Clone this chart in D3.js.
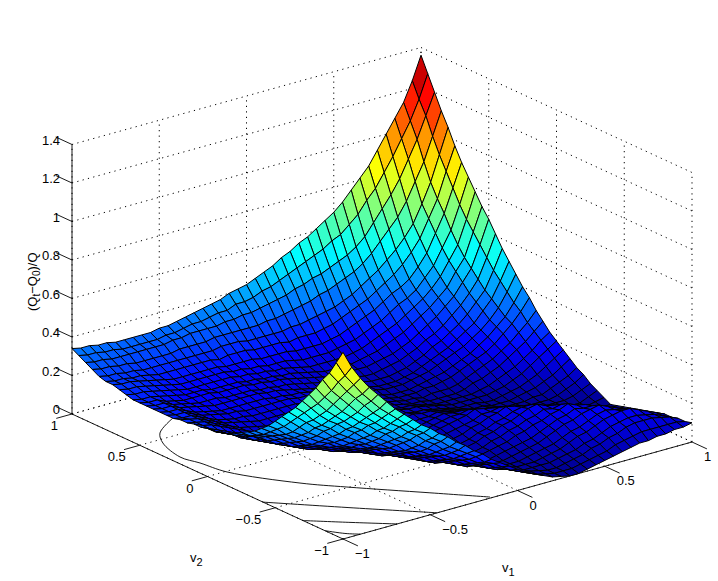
<!DOCTYPE html>
<html>
<head>
<meta charset="utf-8">
<script src="https://cdn.jsdelivr.net/npm/d3@7"></script>
<style>
body { margin: 0; background: #fff; }
text { font-family: "Liberation Sans", Arial, sans-serif; font-size: 13px; fill: #000; }
</style>
</head>
<body>
<div id="chart"></div>
<script>
var v1Ticks = [-1, -0.5, 0, 0.5, 1];
var v2Ticks = [-1, -0.5, 0, 0.5, 1];
var zTicks = [0, 0.2, 0.4, 0.6, 0.8, 1, 1.2, 1.4];

// floor contours as [v1, v2] points, only the visible parts
var contour02 = [[-0.67,0.68],[-0.833,0.566],[-0.90,0.458],[-0.947,0.271],[-0.922,0.156],[-0.895,-0.009],[-0.72,-0.322],[-0.583,-0.492],[-0.331,-0.78],[-0.149,-0.989]];
var contour04 = [[-1,-0.41],[-0.72,-0.72],[-0.46,-1]];
var contour06 = [[-1,-0.705],[-0.85,-0.85],[-0.69,-1]];
var contour08 = [[-1,-0.867],[-0.95,-0.95],[-0.9,-1]];

// surface heights in hundredths
// one row per v2 from -1 up to 1 (step .05), v1 runs from -1 to 1 in each row
var zRows = [
[97,88,81,75,70,65,60,56,52,48,45,41,38,34,31,27,24,20,17,14,11,8,6,4,2,1,0,0,1,2,3,4,5,6,7,7,8,8,9,9,10],
[90,82,76,70,65,60,56,52,48,44,41,37,34,30,27,24,21,17,15,12,9,7,5,3,2,1,1,1,2,3,4,5,7,8,9,10,10,10,10,10,9],
[83,77,71,66,61,56,52,48,45,41,38,34,31,27,24,21,18,15,13,10,8,6,4,3,2,1,1,2,3,4,6,7,9,10,12,13,13,13,12,11,9],
[78,71,66,61,56,52,48,44,41,37,34,30,27,24,21,18,16,13,11,8,6,5,3,2,2,2,2,3,4,5,7,8,10,12,13,14,14,13,12,10,8],
[72,66,61,56,52,48,45,41,38,34,31,27,24,21,19,16,14,11,9,7,5,4,3,2,2,2,3,4,5,7,9,10,12,14,15,16,16,14,12,10,8],
[67,61,56,52,48,44,41,37,34,31,28,24,22,19,17,14,12,9,7,6,4,3,2,2,2,3,4,5,6,8,10,11,13,15,16,15,14,12,10,8,7],
[62,57,52,48,45,41,38,34,31,28,25,22,20,17,15,12,10,8,6,5,4,3,2,2,3,4,5,6,8,10,12,13,15,16,17,15,13,11,9,7,6],
[57,53,48,44,41,37,34,31,28,25,23,20,18,15,13,10,8,7,5,4,3,3,2,3,4,5,6,7,9,11,13,14,16,15,15,13,11,9,7,6,5],
[53,49,45,41,38,34,31,28,26,23,21,18,16,14,12,9,7,6,5,4,3,3,3,4,5,6,8,9,11,12,14,15,17,15,14,12,10,8,6,5,4],
[49,45,41,37,34,31,28,25,23,21,19,16,14,12,10,8,6,5,4,3,3,3,3,4,6,7,9,10,12,13,15,14,15,13,12,10,8,6,4,3,3],
[45,41,37,34,31,28,26,23,21,19,17,15,13,11,9,7,6,5,4,3,3,3,4,5,7,8,10,11,13,15,16,14,13,11,10,8,6,4,3,2,2],
[41,38,34,31,28,25,23,21,19,17,15,13,11,9,8,6,5,4,4,3,3,3,4,5,7,8,10,11,13,14,14,12,11,9,8,6,4,3,2,1,1],
[38,35,32,29,26,23,21,19,17,15,14,12,10,8,7,6,5,4,4,4,4,4,5,6,8,9,11,12,14,13,12,10,9,7,6,4,3,2,1,0,0],
[35,32,30,27,24,21,19,17,15,13,12,10,9,7,6,5,5,4,4,4,5,5,6,7,8,9,11,11,12,11,10,8,7,5,4,3,2,1,0,1,2],
[33,30,28,25,22,19,17,15,14,12,11,9,8,7,6,5,5,5,5,5,6,6,7,8,9,10,12,11,10,9,8,6,5,4,3,2,1,0,0,2,4],
[31,28,26,23,20,18,16,14,13,11,10,8,7,6,6,5,5,5,5,5,6,6,7,8,9,9,10,9,8,7,6,4,3,2,2,1,1,1,2,4,6],
[29,27,25,22,19,17,15,13,12,10,9,8,7,6,6,6,6,6,6,6,6,6,7,8,9,8,8,7,6,5,4,3,2,1,1,1,1,2,4,6,9],
[27,25,23,20,18,16,14,12,11,9,8,7,7,6,6,6,6,6,6,6,6,6,7,7,8,7,6,5,4,3,3,2,1,1,1,2,2,4,6,8,11],
[26,24,22,19,17,15,14,12,11,9,8,7,7,6,6,6,6,6,6,6,7,7,8,7,7,6,5,4,3,2,2,1,1,1,2,3,4,6,8,11,14],
[25,23,21,18,16,14,13,11,10,9,8,7,7,6,6,6,6,6,7,7,7,7,7,6,6,5,4,3,2,2,2,1,1,2,3,4,6,8,11,14,17],
[25,22,20,18,16,14,13,11,10,9,8,7,7,7,7,7,7,7,8,8,8,7,7,6,6,5,4,3,2,2,2,2,2,3,4,6,8,11,14,17,20],
[24,22,20,18,16,14,13,11,10,9,8,8,8,8,8,8,8,8,8,8,8,7,6,5,5,4,3,2,2,2,2,2,3,4,6,8,10,13,16,20,23],
[24,22,21,19,17,15,13,11,10,9,9,9,9,9,9,9,9,9,9,8,8,7,6,5,4,3,3,2,2,2,2,3,5,6,8,10,13,16,19,23,27],
[23,22,21,19,17,15,13,12,11,10,10,10,10,10,10,10,10,9,9,8,8,7,6,5,4,3,3,2,3,3,3,4,6,8,10,12,15,18,22,26,31],
[23,22,21,19,17,15,14,13,12,11,11,11,11,11,11,11,11,10,10,9,8,7,6,5,4,3,3,3,4,4,5,6,8,10,12,14,17,21,25,30,36],
[22,21,21,19,17,15,14,13,13,12,12,12,12,12,12,11,11,10,10,9,8,7,6,5,4,3,3,3,4,5,6,7,9,11,13,16,19,23,27,33,40],
[22,21,21,19,17,16,15,14,14,13,13,13,13,13,13,12,12,11,10,9,8,7,6,5,5,4,4,4,5,6,7,9,11,13,15,18,21,25,30,37,45],
[22,21,21,19,17,16,15,14,14,14,14,14,14,13,13,12,12,11,10,9,8,7,6,5,5,4,4,4,5,6,8,10,12,14,17,20,23,28,33,41,50],
[22,21,21,19,18,17,16,15,15,15,15,15,15,14,14,13,12,11,10,9,8,7,7,6,6,5,5,5,6,7,9,11,14,16,19,22,26,31,36,45,55],
[22,21,21,19,18,17,16,16,16,15,15,15,15,14,14,13,13,12,11,10,9,8,7,7,7,6,6,7,8,9,11,13,16,18,21,25,29,34,40,50,61],
[22,21,21,19,18,17,17,17,17,16,16,16,16,15,15,14,14,13,12,11,10,9,8,8,8,8,8,9,10,11,13,15,18,21,24,28,32,38,44,55,67],
[22,21,21,20,19,18,17,17,17,16,16,16,16,15,15,14,14,13,13,12,11,10,9,9,9,9,10,11,12,14,16,18,21,24,27,31,35,42,48,60,72],
[23,22,22,21,20,19,18,17,17,17,17,17,17,16,16,15,15,14,14,13,12,11,11,11,11,11,12,13,15,17,19,21,24,27,30,34,39,46,53,65,78],
[24,23,23,22,21,20,19,18,18,18,18,18,18,17,17,16,16,15,15,15,14,13,13,13,13,14,15,16,18,20,22,25,28,30,33,38,43,51,59,71,84],
[25,24,24,23,22,21,20,19,19,19,19,19,19,18,18,18,18,17,17,17,17,16,16,16,16,17,18,20,22,24,26,29,32,34,37,42,48,57,66,78,90],
[25,24,24,23,23,22,21,21,21,21,21,21,21,20,21,21,21,20,20,20,20,19,20,20,20,21,22,24,26,28,30,33,36,39,43,48,54,63,72,85,97],
[26,25,25,24,24,23,23,23,23,23,23,23,23,23,24,24,24,23,23,23,23,23,24,24,25,26,27,28,30,32,35,38,41,45,49,54,60,69,79,92,105],
[28,27,27,26,26,25,25,25,25,25,26,26,26,26,27,27,27,27,27,27,28,28,29,30,31,32,34,35,37,39,41,44,48,53,58,63,70,79,88,100,112],
[30,29,29,28,28,28,28,28,28,28,29,29,30,30,30,30,31,31,32,32,33,34,35,36,38,39,41,42,44,46,48,51,55,61,67,73,80,89,98,109,120],
[32,31,31,30,30,29,29,29,29,29,30,30,31,32,32,33,34,34,36,36,37,39,40,42,44,46,48,50,52,55,57,61,65,71,76,83,90,98,106,116,128],
[34,33,33,32,32,31,31,31,31,31,32,32,33,34,35,36,37,38,40,41,42,44,46,48,51,53,56,58,61,64,67,71,76,81,86,93,100,107,114,124,136]
];

var width = 718, height = 581;
var n = zRows.length;
var zAt = function(j, i) { return zRows[j][i] / 100; };
var v1Grid = d3.range(n).map(function(i) { return -1 + 2 * i / (n - 1); });
var v2Grid = v1Grid.slice();

// the view is a plain orthographic one, each data axis has a scale for x and one for y
var xFromV1 = d3.scaleLinear().domain([-1, 1]).range([0, 349]);
var xFromV2 = d3.scaleLinear().domain([-1, 1]).range([0, -271]);
var yFromV1 = d3.scaleLinear().domain([-1, 1]).range([0, -97]);
var yFromV2 = d3.scaleLinear().domain([-1, 1]).range([0, -125]);
var yFromZ = d3.scaleLinear().domain([0, 1.4]).range([0, -269.5]);

function project(v1, v2, z) {
  return [343 + xFromV1(v1) + xFromV2(v2), 539 + yFromV1(v1) + yFromV2(v2) + yFromZ(z)];
}

// nearer to the viewer means bigger
function depth(v1, v2, z) {
  return -13042 * v1 - 16796 * v2 + 4369 * z;
}

var zMax = d3.max(zRows, function(r) { return d3.max(r); }) / 100;
var jet = d3.scaleLinear()
  .domain([0, 0.125, 0.375, 0.625, 0.875, 1].map(function(f) { return f * zMax; }))
  .range(["#00008f", "#0000ff", "#00ffff", "#ffff00", "#ff0000", "#800000"]);

var svg = d3.select("#chart").append("svg")
  .attr("width", width)
  .attr("height", height)
  .style("display", "block");

function seg(a, b, cls) {
  return svg.append("line")
    .attr("x1", a[0]).attr("y1", a[1])
    .attr("x2", b[0]).attr("y2", b[1])
    .attr("stroke", "#000")
    .attr("stroke-width", cls == "grid" ? 1 : 0.9)
    .attr("stroke-dasharray", cls == "grid" ? "1.2,4.3" : null);
}

// dotted grid on the floor and the two back walls
v1Ticks.forEach(function(t) {
  seg(project(t, -1, 0), project(t, 1, 0), "grid");
  seg(project(t, 1, 0), project(t, 1, 1.4), "grid");
});
v2Ticks.forEach(function(t) {
  seg(project(-1, t, 0), project(1, t, 0), "grid");
  seg(project(1, t, 0), project(1, t, 1.4), "grid");
});
zTicks.forEach(function(t) {
  seg(project(-1, 1, t), project(1, 1, t), "grid");
  seg(project(1, 1, t), project(1, -1, t), "grid");
});

// contours on the floor, the surface is painted over them later
var contourLine = d3.line()
  .x(function(d) { return project(d[0], d[1], 0)[0]; })
  .y(function(d) { return project(d[0], d[1], 0)[1]; })
  .curve(d3.curveCatmullRom);
[contour02, contour04, contour06, contour08].forEach(function(c) {
  svg.append("path")
    .attr("d", contourLine(c))
    .attr("fill", "none")
    .attr("stroke", "#000")
    .attr("stroke-width", 0.9);
});

// axes lines
seg(project(-1, 1, 0), project(-1, 1, 1.4));
seg(project(-1, 1, 0), project(-1, -1, 0));
seg(project(-1, -1, 0), project(1, -1, 0));

// surface cells, far ones first
var cells = [];
for (var j = 0; j < n - 1; j++) {
  for (var i = 0; i < n - 1; i++) {
    var zc = (zAt(j, i) + zAt(j, i + 1) + zAt(j + 1, i) + zAt(j + 1, i + 1)) / 4;
    cells.push({
      i: i, j: j, z: zc,
      depth: depth((v1Grid[i] + v1Grid[i + 1]) / 2, (v2Grid[j] + v2Grid[j + 1]) / 2, zc)
    });
  }
}
cells.sort(function(a, b) { return d3.ascending(a.depth, b.depth); });

var line = d3.line();
svg.append("g").selectAll("path")
  .data(cells)
  .enter().append("path")
  .attr("d", function(c) {
    return line([
      project(v1Grid[c.i], v2Grid[c.j], zAt(c.j, c.i)),
      project(v1Grid[c.i + 1], v2Grid[c.j], zAt(c.j, c.i + 1)),
      project(v1Grid[c.i + 1], v2Grid[c.j + 1], zAt(c.j + 1, c.i + 1)),
      project(v1Grid[c.i], v2Grid[c.j + 1], zAt(c.j + 1, c.i))
    ]) + "Z";
  })
  .attr("fill", function(c) { return jet(c.z); })
  .attr("stroke", "#000")
  .attr("stroke-width", 1);

// ticks and tick labels
function fmt(t) { return String(t).replace("-", "\u2212"); }

zTicks.forEach(function(t) {
  seg(project(-1, 1, t), project(-1, 1.12, t));
  var p = project(-1, 1, t);
  svg.append("text").attr("x", p[0] - 12).attr("y", p[1]).attr("text-anchor", "end").text(fmt(t));
});
v2Ticks.forEach(function(t) {
  seg(project(-1, t, 0), project(-1.09, t, 0));
  var p = project(-1, t, 0);
  svg.append("text").attr("x", p[0] - 14).attr("y", p[1] + 16).attr("text-anchor", "end").text(fmt(t));
});
v1Ticks.forEach(function(t) {
  seg(project(t, -1, 0), project(t, -1.11, 0));
  var p = project(t, -1, 0);
  svg.append("text").attr("x", p[0] + 12).attr("y", p[1] + 19).text(fmt(t));
});

// axis labels
var lab2 = svg.append("text").attr("x", 190).attr("y", 562);
lab2.append("tspan").text("v");
lab2.append("tspan").attr("dy", 4).style("font-size", "11px").text("2");
var lab1 = svg.append("text").attr("x", 502).attr("y", 572);
lab1.append("tspan").text("v");
lab1.append("tspan").attr("dy", 4).style("font-size", "11px").text("1");

var labZ = svg.append("text").attr("transform", "translate(37,311) rotate(-90)");
labZ.append("tspan").text("(Q");
labZ.append("tspan").attr("dy", 3).style("font-size", "10px").text("t");
labZ.append("tspan").attr("dy", -3).text("\u2212Q");
labZ.append("tspan").attr("dy", 3).style("font-size", "10px").text("0");
labZ.append("tspan").attr("dy", -3).text(")/Q");
</script>
</body>
</html>
